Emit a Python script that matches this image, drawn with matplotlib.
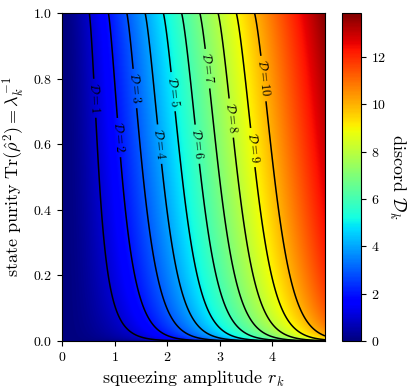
import numpy as np
import matplotlib
matplotlib.use("Agg")
import matplotlib.pyplot as plt

plt.rcParams["font.family"] = "serif"
plt.rcParams["font.serif"] = ["cmr10"]
plt.rcParams["mathtext.fontset"] = "cm"
plt.rcParams["axes.formatter.use_mathtext"] = True

# Ejes del mapa: amplitud de squeezing y pureza del estado
r_min, r_max = 0.0, 5.0
purity_min, purity_max = 0.0, 1.0

# Niveles de las curvas de nivel y posiciones de sus etiquetas (r, pureza)
contour_levels = [1, 2, 3, 4, 5, 6, 7, 8, 9, 10]
label_positions = [(0.63, 0.74), (1.07, 0.62), (1.41, 0.77), (1.85, 0.60),
                   (2.11, 0.76), (2.57, 0.60), (2.76, 0.83), (3.24, 0.68),
                   (3.64, 0.59), (3.83, 0.80)]

x_ticks = [0, 1, 2, 3, 4]
y_ticks = [0.0, 0.2, 0.4, 0.6, 0.8, 1.0]
cbar_ticks = [0, 2, 4, 6, 8, 10, 12]


def entropia(x):
    """Entropía de von Neumann (bits) de un modo con autovalor simpléctico x."""
    a = (x + 1) / 2
    b = (x - 1) / 2
    b_log = np.where(b > 0, b * np.log2(np.where(b > 0, b, 1)), 0.0)
    return a * np.log2(a) - b_log


def discordia(r, pureza):
    """Discordia gaussiana de un estado térmico de dos modos comprimido."""
    nu = 1 / np.sqrt(pureza)
    c2 = np.cosh(2 * r)
    s2 = np.sinh(2 * r)
    A = B = (nu * c2) ** 2
    C = -(nu * s2) ** 2
    D = nu ** 4
    raiz = np.sqrt(np.clip(C ** 2 + (B - 1) * (D - A), 0, None))
    den = np.where(B - 1 > 1e-12, (B - 1) ** 2, 1.0)
    e_min = np.where(B - 1 > 1e-12,
                     (2 * C ** 2 + (B - 1) * (D - A) + 2 * np.abs(C) * raiz) / den,
                     1.0)
    e_min = np.clip(e_min, 1.0, None)
    return entropia(np.sqrt(B)) - 2 * entropia(nu) + entropia(np.sqrt(e_min))


r = np.linspace(r_min, r_max, 500)
p = np.linspace(1e-4, purity_max, 500)
R, P = np.meshgrid(r, p)
Z = np.clip(discordia(R, P), 0, None)

fig = plt.figure(figsize=(4.13, 3.92), dpi=100)
ax = fig.add_axes([0.150, 0.130, 0.637, 0.837])
cax = fig.add_axes([0.828, 0.130, 0.046, 0.837])

mapa = ax.imshow(Z, origin="lower", aspect="auto", cmap="jet",
                 extent=[r_min, r_max, purity_min, purity_max],
                 vmin=0, vmax=Z.max(), interpolation="bilinear")
cs = ax.contour(R, P, Z, levels=contour_levels, colors="black", linewidths=1.1)
ax.clabel(cs, fmt=lambda v: r"$\mathcal{D}=%d$" % v, fontsize=9,
          manual=label_positions, inline=True, inline_spacing=4)

ax.set_xlim(r_min, r_max)
ax.set_ylim(purity_min, purity_max)
ax.set_xticks(x_ticks)
ax.set_yticks(y_ticks)
ax.tick_params(labelsize=10)
ax.set_xlabel(r"squeezing amplitude $r_k$", fontsize=13)
ax.set_ylabel(r"state purity $\mathrm{Tr}(\hat{\rho}^2) = \lambda_k^{-1}$", fontsize=13)

cbar = fig.colorbar(mapa, cax=cax, ticks=cbar_ticks)
cbar.ax.tick_params(labelsize=10)
cbar.set_label(r"discord $\mathcal{D}_k$", fontsize=13, rotation=270, labelpad=15)

plt.savefig("out.png", dpi=100)
